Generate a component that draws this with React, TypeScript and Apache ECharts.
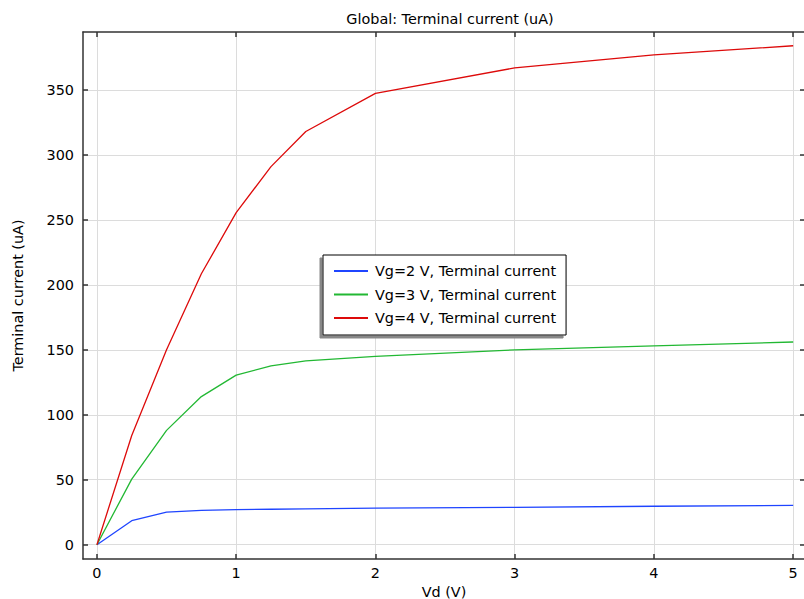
import React, { useEffect, useRef } from "react";
import * as echarts from "echarts";

const vd = [0, 0.25, 0.5, 0.75, 1, 1.25, 1.5, 2, 3, 4, 5];
const vg2 = [0, 18.5, 25, 26.5, 27, 27.3, 27.6, 28.2, 28.8, 29.6, 30.2];
const vg3 = [0, 50.5, 88, 114, 130.5, 137.7, 141.5, 145, 150, 153, 156];
const vg4 = [0, 84, 150, 208.5, 255.6, 291, 318, 347.4, 367, 377, 384];
const xTicks = [0, 1, 2, 3, 4, 5];
const yTicks = [0, 50, 100, 150, 200, 250, 300, 350];
const seriesNames = ["Vg=2 V, Terminal current", "Vg=3 V, Terminal current", "Vg=4 V, Terminal current"];
const colors = ["#1f45ff", "#22b833", "#dd0a0a"];

const FONT = "DejaVu Sans";
const FS = 14.4;

export default function App() {
  const ref = useRef<HTMLDivElement>(null);
  useEffect(() => {
    const chart = echarts.init(ref.current!, null, { renderer: "svg" });
    const dataSets = [vg2, vg3, vg4];
    const axisLine = { show: true, onZero: false, lineStyle: { color: "#333", width: 1.5 } };
    const tick = (vals: number[]) => ({
      show: true,
      inside: true,
      length: 5,
      customValues: vals,
      lineStyle: { color: "#333", width: 1.5 },
    });
    chart.setOption({
      animation: false,
      backgroundColor: "#fff",
      textStyle: { fontFamily: FONT },
      title: {
        text: "Global: Terminal current (uA)",
        left: 445,
        textAlign: "center",
        top: 7,
        textStyle: { fontFamily: FONT, fontSize: FS, fontWeight: "normal", color: "#000" },
      },
      legend: {
        orient: "vertical",
        left: 323,
        top: 255,
        padding: [8, 10, 9, 11],
        itemWidth: 34,
        itemHeight: 2,
        itemGap: 7.5,
        backgroundColor: "#fff",
        borderColor: "#000",
        borderWidth: 1,
        borderRadius: 0,
        shadowColor: "#888",
        shadowBlur: 0,
        shadowOffsetX: -3,
        shadowOffsetY: 3,
        icon: "rect",
        textStyle: { fontFamily: FONT, fontSize: FS, lineHeight: 16, color: "#000", padding: [0, 0, 0, 2] },
        data: seriesNames,
      },
      grid: {
        left: 83,
        top: 32,
        width: 722,
        height: 527,
        containLabel: false,
        outerBoundsMode: "none",
      },
      xAxis: [
        {
          type: "value",
          min: -0.1,
          max: 5.085,
          name: "Vd (V)",
          nameLocation: "middle",
          nameGap: 16,
          nameTextStyle: { fontFamily: FONT, fontSize: FS, color: "#000" },
          axisLine,
          axisTick: tick(xTicks),
          axisLabel: { customValues: xTicks, fontFamily: FONT, fontSize: FS, color: "#000", margin: 7 },
          splitLine: { show: true, lineStyle: { color: "#dcdcdc", width: 1 } },
        },
        {
          type: "value",
          position: "top",
          min: -0.1,
          max: 5.085,
          axisLine,
          axisTick: tick(xTicks),
          axisLabel: { show: false },
          splitLine: { show: false },
        },
      ],
      yAxis: [
        {
          type: "value",
          min: -11,
          max: 394.6,
          name: "Terminal current (uA)",
          nameLocation: "middle",
          nameGap: 58,
          nameRotate: 90,
          nameTextStyle: { fontFamily: FONT, fontSize: FS, color: "#000" },
          axisLine,
          axisTick: tick(yTicks),
          axisLabel: { customValues: yTicks, fontFamily: FONT, fontSize: FS, color: "#000", margin: 9 },
          splitLine: { show: true, lineStyle: { color: "#dcdcdc", width: 1 } },
        },
        {
          type: "value",
          position: "right",
          min: -11,
          max: 394.6,
          axisLine,
          axisTick: tick(yTicks),
          axisLabel: { show: false },
          splitLine: { show: false },
        },
      ],
      series: dataSets.map((d, i) => ({
        name: seriesNames[i],
        type: "line",
        data: vd.map((x, j) => [x, d[j]]),
        showSymbol: false,
        symbol: "none",
        lineStyle: { color: colors[i], width: 1.3 },
        itemStyle: { color: colors[i] },
        z: 3,
      })),
    });
    return () => chart.dispose();
  }, []);
  return <div ref={ref} style={{ width: 804, height: 599, position: "absolute", left: 0, top: 0 }} />;
}
